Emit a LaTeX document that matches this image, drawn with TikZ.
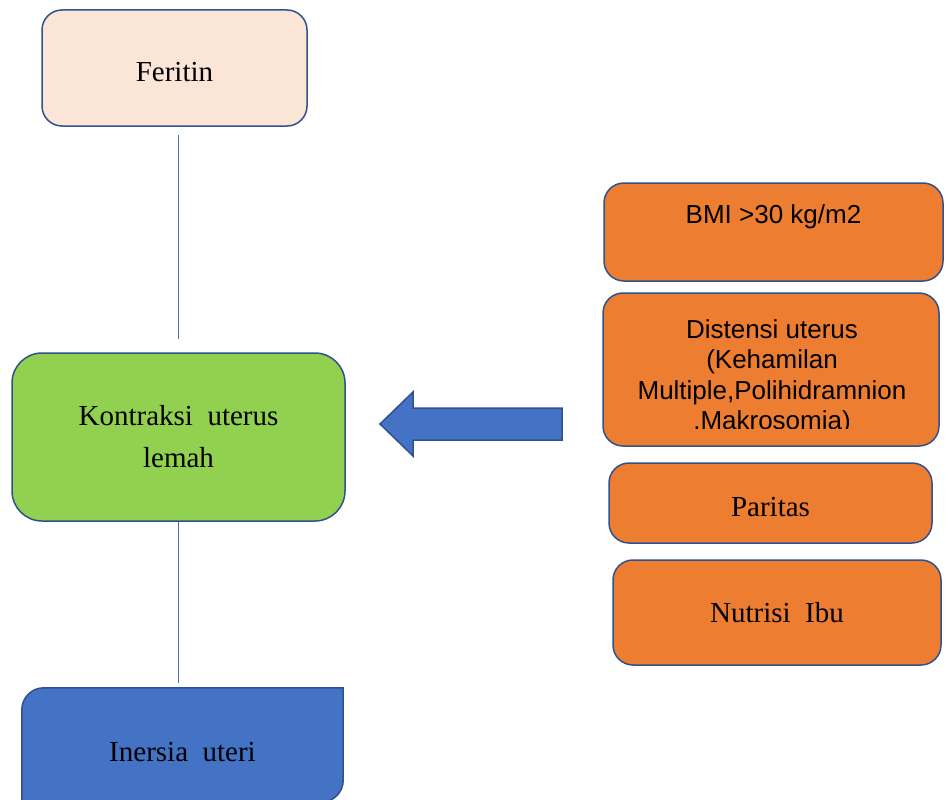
\documentclass[tikz,border=0pt]{standalone}
\usepackage{fontspec}
\usetikzlibrary{backgrounds}
\setmainfont{Liberation Serif}
\newfontfamily\arialfont{Liberation Sans}
\definecolor{peach}{HTML}{FBE5D6}
\definecolor{leaf}{HTML}{92D050}
\definecolor{office}{HTML}{4472C4}
\definecolor{rim}{HTML}{2F528F}
\definecolor{tangerine}{HTML}{ED7D31}

\begin{document}
\begin{tikzpicture}[x=1pt,y=-1pt]

\tikzset{box/.style = {shape=rectangle,draw=rim,line width=1.5pt,rounded corners=20pt,inner sep=0pt,align=center,font=\fontsize{29}{42}\selectfont}}
\tikzset{obox/.style = {box,fill=tangerine}}
\tikzset{sans/.style = {font=\arialfont\fontsize{26}{30.5}\selectfont}}
\tikzset{link/.style = {draw=office,line width=1pt}}
\clip (0,0) rectangle (950,800);
%boxes
\node[box, fill=peach, minimum width=265pt, minimum height=116pt, text height=27pt] (feritin) at (174.5,68) {Feritin};
\node[box, fill=leaf, rounded corners=30pt, minimum width=333pt, minimum height=168pt] (kontraksi) at (178.5,437) {Kontraksi\ \ uterus\\lemah};
\node[minimum width=321pt, minimum height=114pt, inner sep=0pt, text height=34pt, font=\fontsize{29}{42}\selectfont] (inersia) at (182.5,745) {Inersia\ \ uteri};
\node[obox, sans, minimum width=339pt, minimum height=98pt, text height=18pt, text depth=36pt] (bmi) at (773.5,232) {BMI >30\ kg/m2};
\node[obox, minimum width=336pt, minimum height=153pt] (distensi) at (771,369.5) {};
\begin{scope}
\clip (603,293) rectangle (939,428);
\node[sans, align=center, inner sep=0pt, anchor=north] (distensitext) at (772,319) {Distensi uterus\\(Kehamilan\\Multiple,Polihidramnion\\.Makrosomia)};
\end{scope}
\node[obox, minimum width=323pt, minimum height=80pt, text height=28pt] (paritas) at (770.5,503) {Paritas};
\node[obox, minimum width=328pt, minimum height=105pt, text height=21pt] (nutrisi) at (777,612.5) {Nutrisi\ \ Ibu};
%inersia outline
\begin{scope}[on background layer]
\draw[fill=office, draw=rim, line width=1.5pt] (inersia.south west) [rounded corners=22pt] -- (inersia.north west) [sharp corners] -- (inersia.north east) [rounded corners=22pt] -- (inersia.south east) [sharp corners] -- cycle;
\end{scope}
%edges
\draw[link, shorten <=8pt, shorten >=13pt] (feritin.south -| kontraksi.north) -- (kontraksi.north);
\draw[link, shorten >=5pt] (kontraksi.south) -- (kontraksi.south |- inersia.north);
%arrow
\coordinate (tip) at (380,424);
\draw[fill=office, draw=rim, line width=1.5pt, line join=miter] (tip) -- (413,392) -- (413,408) -- (562,408) -- (562,440) -- (413,440) -- (413,456) -- cycle;
\end{tikzpicture}
\end{document}
